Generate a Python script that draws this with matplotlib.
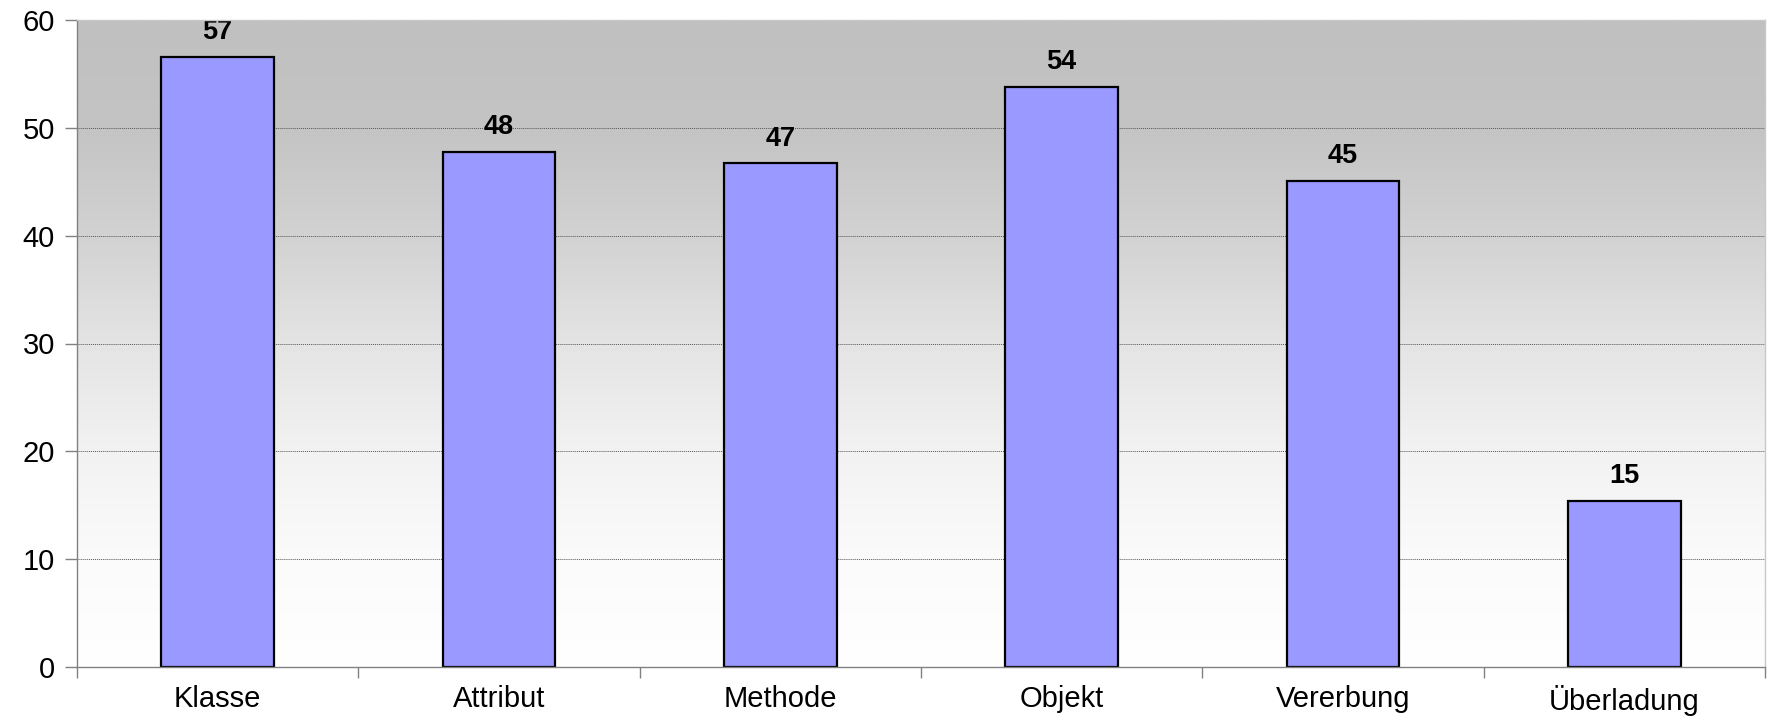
import numpy as np
import matplotlib
matplotlib.use("Agg")
import matplotlib.pyplot as plt
from matplotlib.colors import LinearSegmentedColormap

categories = ["Klasse", "Attribut", "Methode", "Objekt", "Vererbung", "Überladung"]
values = [56.6, 47.8, 46.7, 53.8, 45.1, 15.4]
yticks = [0, 10, 20, 30, 40, 50, 60]

plt.rcParams['font.family'] = ['Liberation Sans', 'DejaVu Sans']

fig = plt.figure(figsize=(17.67, 7.22), dpi=100)
ax = fig.add_axes([77/1767, 55/722, (1765-77)/1767, (667-20)/722])

n = len(categories)
x = np.arange(n)
ax.set_xlim(-0.5, n - 0.5)
ax.set_ylim(0, 60)

# background gradient (gray top -> white bottom)
stops = [(0.0, '#ffffff'), (1/6, '#fbfbfb'), (2/6, '#f2f2f2'), (3/6, '#e4e4e4'),
         (4/6, '#d2d2d2'), (5/6, '#c4c4c4'), (1.0, '#c0c0c0')]
cmap = LinearSegmentedColormap.from_list('bg', stops)
grad = np.linspace(0, 1, 512).reshape(-1, 1)
ax.imshow(grad, aspect='auto', cmap=cmap, origin='lower',
          extent=(-0.5, n - 0.5, 0, 60), zorder=0, interpolation='bilinear')

for yv in yticks[1:-1]:
    ax.axhline(yv, color='#555555', linestyle=(0, (1, 1)), linewidth=0.7, zorder=1)

bars = ax.bar(x, values, width=0.4, color='#9999ff', edgecolor='black',
              linewidth=1.6, zorder=2)
for xi, v in zip(x, values):
    ax.text(xi, v + 1.1, f"{v:.0f}", ha='center', va='bottom',
            fontsize=19.5, fontweight='bold', zorder=3)

ax.set_yticks(yticks)
ax.set_yticklabels([str(t) for t in yticks], fontsize=21)
ax.set_xticks(x)
ax.set_xticklabels(categories, fontsize=21)
ax.set_xticks(np.arange(-0.5, n, 1.0), minor=True)
ax.tick_params(axis='x', which='major', length=0, pad=13)
ax.tick_params(axis='x', which='minor', length=8, color='#808080', width=1)
ax.tick_params(axis='y', length=9, color='#808080', width=1, pad=7)

ax.spines['left'].set_color('#808080')
ax.spines['bottom'].set_color('#808080')
ax.spines['top'].set_color('#c8c8c8')
ax.spines['right'].set_color('#c8c8c8')
for s in ax.spines.values():
    s.set_linewidth(1)
    s.set_zorder(4)

fig.savefig("out.png", dpi=100)
